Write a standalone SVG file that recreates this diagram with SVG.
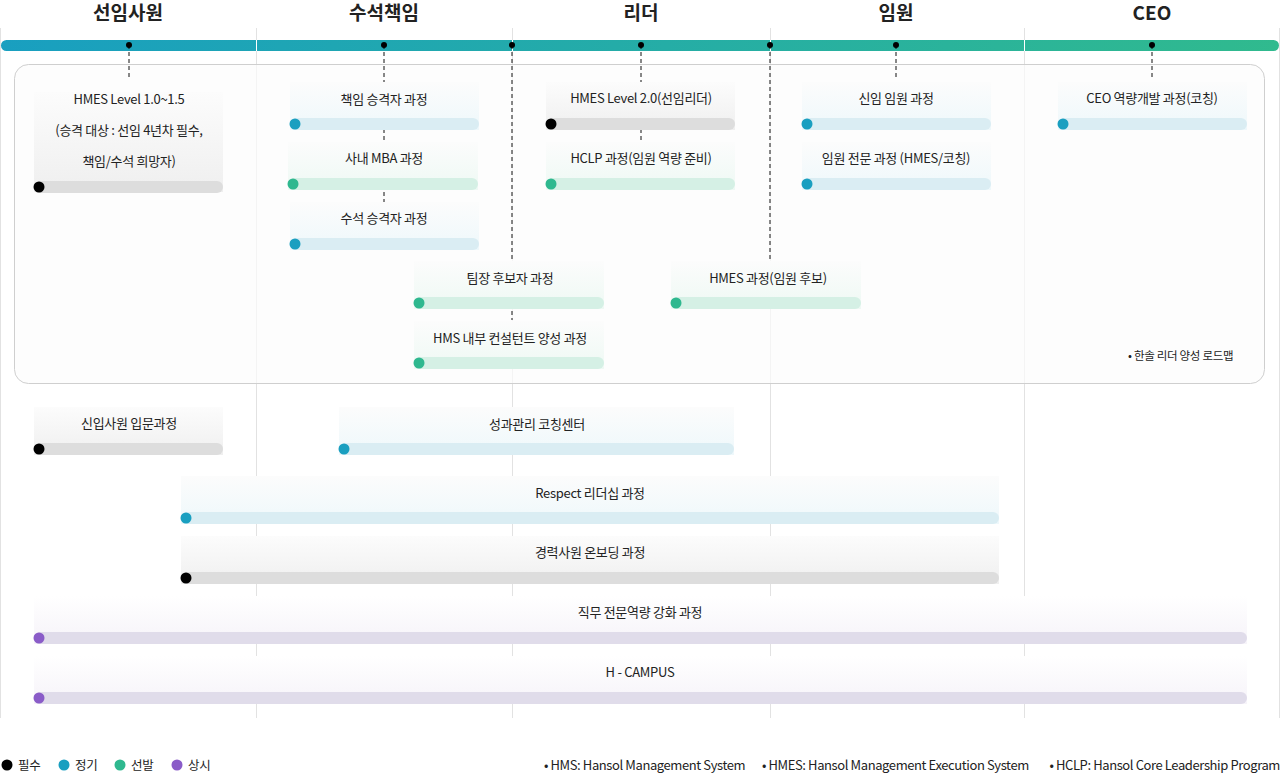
<svg xmlns="http://www.w3.org/2000/svg" width="1280" height="774" viewBox="0 0 1280 774">
<style>
text{font-family:"Noto Sans CJK KR","Noto Sans",sans-serif;fill:#222}
.h{font-size:19px;font-weight:700;text-anchor:middle}
.t{font-size:13px;text-anchor:middle;letter-spacing:-0.3px}
.s{font-size:12.5px;letter-spacing:-0.3px}
.f{font-size:13px;letter-spacing:-0.4px}
.col{stroke:#e2e2e2;stroke-width:1}
.dash{stroke:#111;stroke-width:1;stroke-dasharray:4 3}
.gk{fill:#dddddd}.bl{fill:#daedf3}.gr{fill:#d5f0e5}.pu{fill:#e0dcea}
.dk{fill:#000}.db{fill:#1a9fc0}.dg{fill:#2fb88f}.dp{fill:#8a5cc8}
</style>
<defs>
<linearGradient id="tl" x1="0" x2="1"><stop offset="0" stop-color="#199fc0"/><stop offset="1" stop-color="#30ba8e"/></linearGradient>
<linearGradient id="cg" x1="0" y1="0" x2="0" y2="1"><stop offset="0" stop-color="#fcfcfc"/><stop offset="1" stop-color="#efefef"/></linearGradient>
<linearGradient id="cb" x1="0" y1="0" x2="0" y2="1"><stop offset="0" stop-color="#fcfcfc"/><stop offset="1" stop-color="#eef8fb"/></linearGradient>
<linearGradient id="cgr" x1="0" y1="0" x2="0" y2="1"><stop offset="0" stop-color="#fcfcfc"/><stop offset="1" stop-color="#eef9f4"/></linearGradient>
<linearGradient id="cp" x1="0" y1="0" x2="0" y2="1"><stop offset="0" stop-color="#fff"/><stop offset="1" stop-color="#f6f3f9"/></linearGradient>
</defs>
<g id="columns">
<line class="col" x1="0.5" y1="28" x2="0.5" y2="718"/>
<line class="col" x1="256.5" y1="28" x2="256.5" y2="718"/>
<line class="col" x1="512.5" y1="28" x2="512.5" y2="718"/>
<line class="col" x1="770.5" y1="28" x2="770.5" y2="718"/>
<line class="col" x1="1024.5" y1="28" x2="1024.5" y2="718"/>
<line class="col" x1="1279.5" y1="28" x2="1279.5" y2="718"/>
<text class="h" x="128" y="20">선임사원</text>
<text class="h" x="384" y="20">수석책임</text>
<text class="h" x="641" y="20">리더</text>
<text class="h" x="896" y="20">임원</text>
<text class="h" x="1152" y="20">CEO</text>
</g>
<g id="timeline">
<rect x="1" y="40" width="1278" height="11" rx="5.5" fill="url(#tl)"/>
<g fill="#fff"><rect x="256" y="40" width="1" height="11"/><rect x="512" y="40" width="1" height="11"/><rect x="770" y="40" width="1" height="11"/><rect x="1024" y="40" width="1" height="11"/></g>
</g>
<rect id="roadmap" x="14.5" y="64.5" width="1250" height="319" rx="14" fill="#fcfcfc" fill-opacity="0.7" stroke="#cfcfcf"/>
<g id="connectors">
<line class="dash" x1="129" y1="45" x2="129" y2="80"/>
<line class="dash" x1="384" y1="45" x2="384" y2="250"/>
<line class="dash" x1="512" y1="45" x2="512" y2="320"/>
<line class="dash" x1="641" y1="45" x2="641" y2="140"/>
<line class="dash" x1="770" y1="45" x2="770" y2="262"/>
<line class="dash" x1="896" y1="45" x2="896" y2="80"/>
<line class="dash" x1="1152" y1="45" x2="1152" y2="80"/>
<g class="dk"><circle cx="129" cy="45" r="3"/><circle cx="384" cy="45" r="3"/><circle cx="512" cy="45" r="3"/><circle cx="641" cy="45" r="3"/><circle cx="770" cy="45" r="3"/><circle cx="896" cy="45" r="3"/><circle cx="1152" cy="45" r="3"/></g>
</g>
<g id="n1"><rect x="34" y="92" width="189" height="100" fill="url(#cg)"/><rect class="gk" x="34" y="181" width="189" height="12" rx="6"/><circle class="dk" cx="39" cy="187" r="5.5"/><text class="t" x="129" y="104">HMES Level 1.0~1.5</text><text class="t" x="129" y="135">(승격 대상 : 선임 4년차 필수,</text><text class="t" x="129" y="166">책임/수석 희망자)</text></g>
<g id="n2"><rect x="290" y="82" width="189" height="48" fill="url(#cb)"/><rect class="bl" x="290" y="118" width="189" height="12" rx="6"/><circle class="db" cx="295" cy="124" r="5.5"/><text class="t" x="384" y="104">책임 승격자 과정</text></g>
<g id="n3"><rect x="288" y="142" width="190" height="48" fill="url(#cgr)"/><rect class="gr" x="288" y="178" width="190" height="12" rx="6"/><circle class="dg" cx="293" cy="184" r="5.5"/><text class="t" x="384" y="163">사내 MBA 과정</text></g>
<g id="n4"><rect x="290" y="202" width="189" height="48" fill="url(#cb)"/><rect class="bl" x="290" y="238" width="189" height="12" rx="6"/><circle class="db" cx="295" cy="244" r="5.5"/><text class="t" x="384" y="223">수석 승격자 과정</text></g>
<g id="n5"><rect x="414" y="261" width="190" height="48" fill="url(#cgr)"/><rect class="gr" x="414" y="297" width="190" height="12" rx="6"/><circle class="dg" cx="419" cy="303" r="5.5"/><text class="t" x="510" y="283">팀장 후보자 과정</text></g>
<g id="n6"><rect x="414" y="321" width="190" height="48" fill="url(#cgr)"/><rect class="gr" x="414" y="357" width="190" height="12" rx="6"/><circle class="dg" cx="419" cy="363" r="5.5"/><text class="t" x="510" y="343">HMS 내부 컨설턴트 양성 과정</text></g>
<g id="n7"><rect x="546" y="82" width="189" height="48" fill="url(#cg)"/><rect class="gk" x="546" y="118" width="189" height="12" rx="6"/><circle class="dk" cx="551" cy="124" r="5.5"/><text class="t" x="641" y="103">HMES Level 2.0(선임리더)</text></g>
<g id="n8"><rect x="546" y="142" width="189" height="48" fill="url(#cgr)"/><rect class="gr" x="546" y="178" width="189" height="12" rx="6"/><circle class="dg" cx="551" cy="184" r="5.5"/><text class="t" x="641" y="163">HCLP 과정(임원 역량 준비)</text></g>
<g id="n9"><rect x="802" y="82" width="189" height="48" fill="url(#cb)"/><rect class="bl" x="802" y="118" width="189" height="12" rx="6"/><circle class="db" cx="807" cy="124" r="5.5"/><text class="t" x="896" y="103">신임 임원 과정</text></g>
<g id="n10"><rect x="802" y="142" width="189" height="48" fill="url(#cb)"/><rect class="bl" x="802" y="178" width="189" height="12" rx="6"/><circle class="db" cx="807" cy="184" r="5.5"/><text class="t" x="896" y="163">임원 전문 과정 (HMES/코칭)</text></g>
<g id="n11"><rect x="671" y="261" width="190" height="48" fill="url(#cgr)"/><rect class="gr" x="671" y="297" width="190" height="12" rx="6"/><circle class="dg" cx="676" cy="303" r="5.5"/><text class="t" x="768" y="283">HMES 과정(임원 후보)</text></g>
<g id="n12"><rect x="1058" y="82" width="189" height="48" fill="url(#cb)"/><rect class="bl" x="1058" y="118" width="189" height="12" rx="6"/><circle class="db" cx="1063" cy="124" r="5.5"/><text class="t" x="1152" y="103">CEO 역량개발 과정(코칭)</text></g>
<text class="s" x="1128" y="360" style="font-size:11.5px">• 한솔 리더 양성 로드맵</text>
<g id="n13"><rect x="34" y="407" width="189" height="48" fill="url(#cg)"/><rect class="gk" x="34" y="443" width="189" height="12" rx="6"/><circle class="dk" cx="39" cy="449" r="5.5"/><text class="t" x="129" y="428">신입사원 입문과정</text></g>
<g id="n14"><rect x="339" y="407" width="395" height="48" fill="url(#cb)"/><rect class="bl" x="339" y="443" width="395" height="12" rx="6"/><circle class="db" cx="344" cy="449" r="5.5"/><text class="t" x="537" y="429">성과관리 코칭센터</text></g>
<g id="n15"><rect x="181" y="476" width="818" height="48" fill="url(#cb)"/><rect class="bl" x="181" y="512" width="818" height="12" rx="6"/><circle class="db" cx="186" cy="518" r="5.5"/><text class="t" x="590" y="498">Respect 리더십 과정</text></g>
<g id="n16"><rect x="181" y="536" width="818" height="48" fill="url(#cg)"/><rect class="gk" x="181" y="572" width="818" height="12" rx="6"/><circle class="dk" cx="186" cy="578" r="5.5"/><text class="t" x="590" y="557">경력사원 온보딩 과정</text></g>
<g id="n17"><rect x="34" y="596" width="1213" height="48" fill="url(#cp)"/><rect class="pu" x="34" y="632" width="1213" height="12" rx="6"/><circle class="dp" cx="39" cy="638" r="5.5"/><text class="t" x="640" y="617">직무 전문역량 강화 과정</text></g>
<g id="n18"><rect x="34" y="656" width="1213" height="48" fill="url(#cp)"/><rect class="pu" x="34" y="692" width="1213" height="12" rx="6"/><circle class="dp" cx="39" cy="698" r="5.5"/><text class="t" x="640" y="677">H - CAMPUS</text></g>
<g id="legend">
<circle class="dk" cx="7" cy="765" r="5.5"/><text class="s" x="18" y="770">필수</text>
<circle class="db" cx="64" cy="765" r="5.5"/><text class="s" x="75" y="770">정기</text>
<circle class="dg" cx="120" cy="765" r="5.5"/><text class="s" x="131" y="770">선발</text>
<circle class="dp" cx="177" cy="765" r="5.5"/><text class="s" x="188" y="770">상시</text>
<text class="f" x="544" y="770">• HMS: Hansol Management System</text>
<text class="f" x="762" y="770">• HMES: Hansol Management Execution System</text>
<text class="f" x="1280" y="770" text-anchor="end">• HCLP: Hansol Core Leadership Program</text>
</g>
</svg>
